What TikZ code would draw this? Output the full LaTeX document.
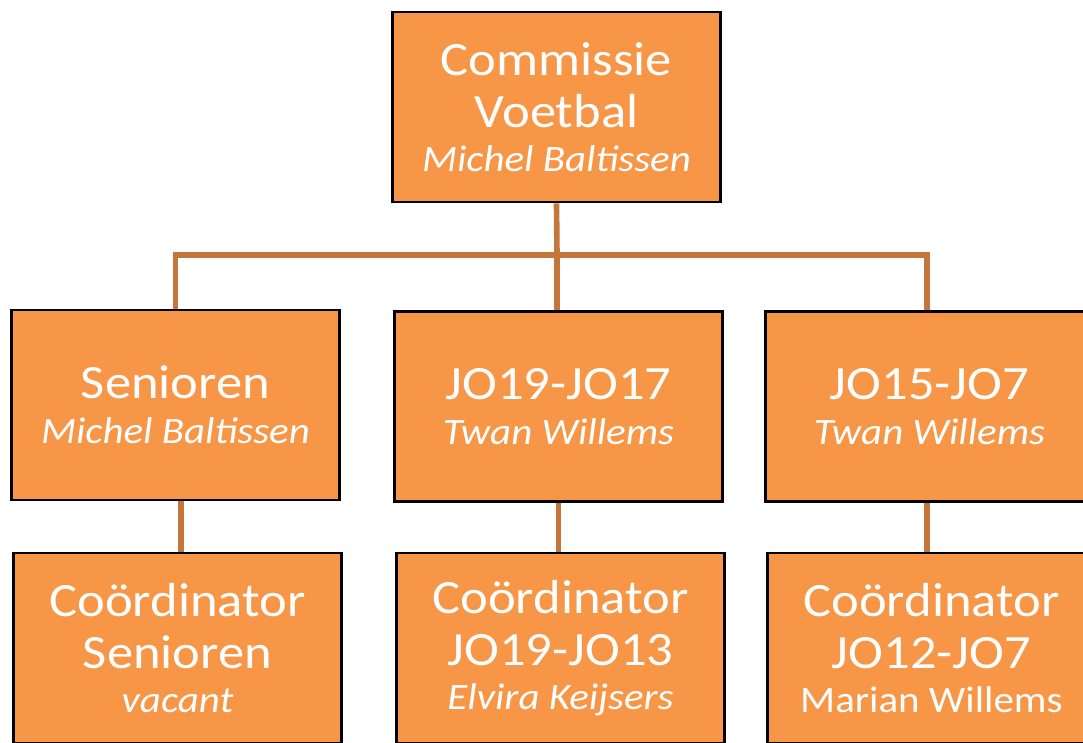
\documentclass[tikz,border=0pt]{standalone}
\usepackage{fontspec}
\setmainfont{Carlito}[FakeStretch=1.1]
\definecolor{boxorange}{HTML}{F79646}
\definecolor{lineorange}{HTML}{C5763A}
\newcommand{\titletxt}{\fontsize{27.2}{24.5}\selectfont}
\newcommand{\nametxt}{\fontsize{21.2}{24.5}\selectfont\itshape}
\newcommand{\plaintxt}{\fontsize{21.2}{24.5}\selectfont}
\begin{document}
\begin{tikzpicture}[x=0.02cm, y=-0.02cm,
    unit/.style={rectangle, draw=black, line width=1.6pt, fill=boxorange,
      text=white, minimum width=6.56cm, minimum height=3.8cm,
      font={\fontsize{21.2}{24.5}\selectfont},
      align=center, inner sep=0pt},
    link/.style={draw=lineorange, line width=3.2pt}]
  \useasboundingbox (0,0) rectangle (1083,743);
  \clip (0,0) rectangle (1083,743);

  % Commissie
  \node[unit] (cv) at (556.5,107) {\titletxt Commissie\\[5.1pt]\titletxt Voetbal\\[0.5pt]\nametxt Michel Baltissen};

  % Afdelingen
  \node[unit] (sen) at (175.5,405) {\titletxt Senioren\\[1pt]\nametxt Michel Baltissen};
  \node[unit] (jo19) at (558.5,406.5) {\titletxt JO19-JO17\\[1pt]\nametxt Twan Willems};
  \node[unit] (jo15) at (929.5,406.5) {\titletxt JO15-JO7\\[1pt]\nametxt Twan Willems};

  % Coordinatoren
  \node[unit] (csen) at (177.5,648) {\titletxt Coördinator\\[5.1pt]\titletxt Senioren\\[0.5pt]\nametxt vacant};
  \node[unit] (cjo19) at (560.5,648) {\titletxt Coördinator\\[5.1pt]\titletxt JO19-JO13\\[0.5pt]\nametxt Elvira Keijsers};
  \node[unit] (cjo12) at (931.5,648) {\titletxt Coördinator\\[5.1pt]\titletxt JO12-JO7\\[0.5pt]\plaintxt Marian Willems};

  % Verbindingen
  \coordinate (split) at (557,255);
  \draw[link] (cv.south) -- (split);
  \draw[link] (sen.north) |- (split) -| ([xshift=-0.05cm]jo15.north);
  \draw[link] (split) -- (split |- jo19.north);

  \draw[link] ([xshift=0.07cm]sen.south -| csen.north) -- ([xshift=0.07cm]csen.north);
  \draw[link] (jo19.south) -- (jo19.south |- cjo19.north);
  \draw[link] ([xshift=-0.05cm]jo15.south) -- ([xshift=-0.05cm]jo15.south |- cjo12.north);
\end{tikzpicture}
\end{document}
